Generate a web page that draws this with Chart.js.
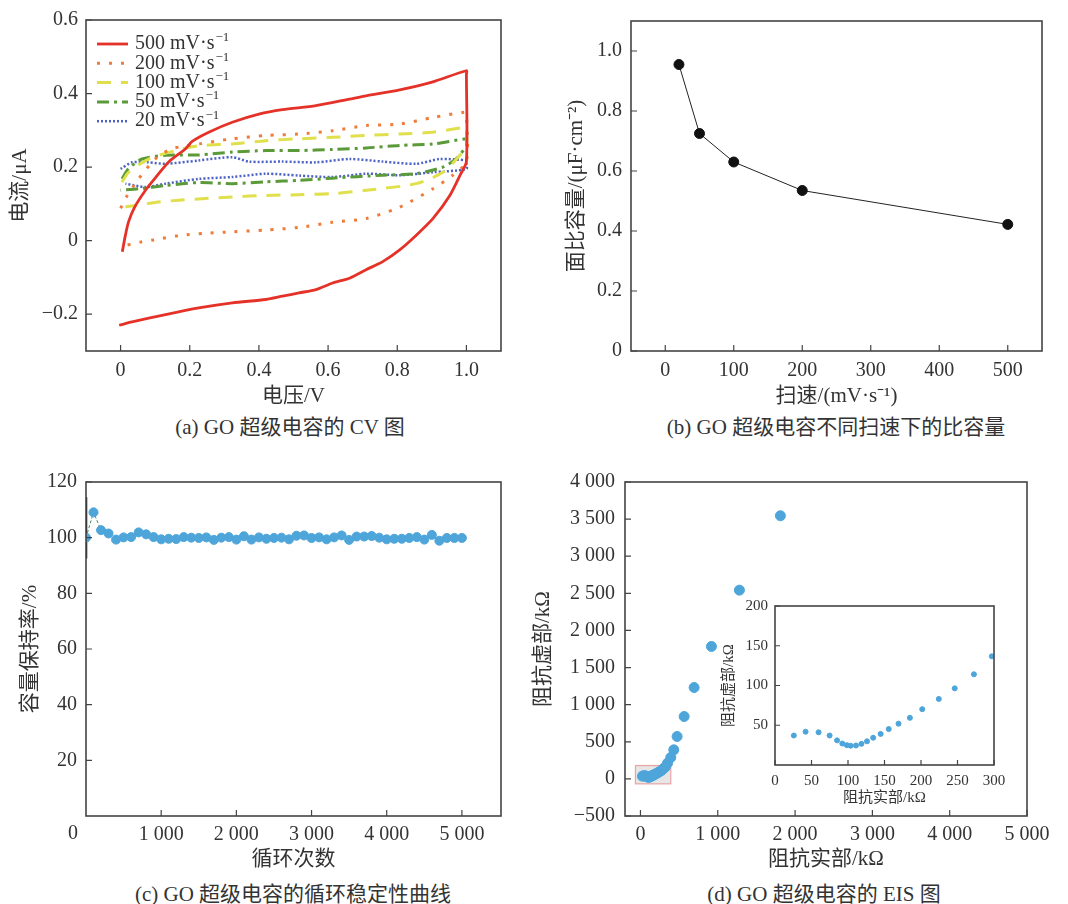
<!DOCTYPE html>
<html>
<head>
<meta charset="utf-8">
<script src="https://cdn.jsdelivr.net/npm/chart.js@4.4.0/dist/chart.umd.min.js"></script>
<style>
  html, body { margin: 0; background: #fff; }
  #page { position: relative; width: 1068px; height: 904px; overflow: hidden; font-family: "Liberation Serif", "Noto Sans CJK SC", serif; color: #333; }
  canvas { position: absolute; }
  .cap { position: absolute; font-size: 21px; white-space: nowrap; transform: translate(-50%, -50%); }
</style>
</head>
<body>
<div id="page">
  <canvas id="cvChart" width="534" height="410" style="left:0;top:0"></canvas>
  <canvas id="rateChart" width="534" height="410" style="left:534px;top:0"></canvas>
  <canvas id="cycleChart" width="534" height="422" style="left:0;top:450px"></canvas>
  <canvas id="eisChart" width="538" height="422" style="left:530px;top:450px"></canvas>
  <canvas id="eisInset" width="330" height="225" style="left:700px;top:590px"></canvas>
  <div class="cap" style="left:290px;top:425px">(a) GO 超级电容的 CV 图</div>
  <div class="cap" style="left:836px;top:425px">(b) GO 超级电容不同扫速下的比容量</div>
  <div class="cap" style="left:293px;top:892px">(c) GO 超级电容的循环稳定性曲线</div>
  <div class="cap" style="left:824px;top:892px">(d) GO 超级电容的 EIS 图</div>
</div>
<script>
// --- (a) CV loops: voltage (V) / current (uA), forward sweep then return ---
const cvLabels = ['500 mV·s⁻¹', '200 mV·s⁻¹', '100 mV·s⁻¹', '50 mV·s⁻¹', '20 mV·s⁻¹'];
const cvV500 = [0.005, 0.014, 0.023, 0.04, 0.072, 0.1, 0.139, 0.188, 0.207, 0.255, 0.323, 0.4, 0.468, 0.565, 0.662, 0.71, 0.807, 0.903, 1.0,
  1.0, 1.0, 0.981, 0.952, 0.903, 0.855, 0.807, 0.758, 0.71, 0.662, 0.613, 0.565, 0.516, 0.468, 0.42, 0.323, 0.226, 0.13, 0.033, -0.004];
const cvI500 = [-0.03, 0.015, 0.051, 0.09, 0.137, 0.17, 0.214, 0.25, 0.27, 0.295, 0.322, 0.344, 0.356, 0.367, 0.385, 0.394, 0.41, 0.432, 0.462,
  0.452, 0.215, 0.177, 0.123, 0.06, 0.015, -0.025, -0.057, -0.079, -0.102, -0.115, -0.133, -0.142, -0.151, -0.16, -0.169, -0.183, -0.201, -0.221, -0.23];
const cvV200 = [0.0, 0.019, 0.052, 0.1, 0.149, 0.226, 0.323, 0.42, 0.516, 0.613, 0.71, 0.807, 0.903, 0.995,
  1.0, 1.0, 0.961, 0.903, 0.836, 0.797, 0.71, 0.613, 0.516, 0.42, 0.323, 0.245, 0.168, 0.096, 0.057, 0.019];
const cvI200 = [0.088, 0.122, 0.168, 0.222, 0.25, 0.263, 0.277, 0.286, 0.29, 0.299, 0.313, 0.317, 0.335, 0.349,
  0.343, 0.215, 0.178, 0.141, 0.105, 0.087, 0.06, 0.05, 0.036, 0.029, 0.024, 0.02, 0.0135, 0.002, -0.004, -0.012];
const cvV100 = [0.004, 0.023, 0.081, 0.159, 0.226, 0.323, 0.42, 0.516, 0.613, 0.71, 0.807, 0.903, 1.0,
  1.0, 1.0, 0.981, 0.932, 0.855, 0.71, 0.613, 0.516, 0.42, 0.323, 0.236, 0.168, 0.1, 0.038, 0.014];
const cvI100 = [0.159, 0.186, 0.222, 0.245, 0.258, 0.263, 0.272, 0.277, 0.281, 0.286, 0.29, 0.295, 0.308,
  0.3, 0.258, 0.232, 0.186, 0.155, 0.137, 0.128, 0.125, 0.123, 0.119, 0.114, 0.11, 0.104, 0.095, 0.092];
const cvV50 = [0.004, 0.023, 0.062, 0.13, 0.226, 0.323, 0.42, 0.516, 0.613, 0.71, 0.807, 0.903, 1.0,
  1.0, 1.0, 0.971, 0.932, 0.855, 0.758, 0.613, 0.516, 0.42, 0.323, 0.226, 0.13, 0.052, 0.0];
const cvI50 = [0.168, 0.196, 0.222, 0.232, 0.233, 0.241, 0.245, 0.245, 0.248, 0.252, 0.259, 0.263, 0.277,
  0.27, 0.258, 0.223, 0.2, 0.182, 0.178, 0.17, 0.164, 0.16, 0.155, 0.158, 0.15, 0.141, 0.137];
const cvV20 = [0.0, 0.033, 0.081, 0.13, 0.226, 0.323, 0.371, 0.468, 0.565, 0.662, 0.758, 0.855, 0.923, 1.0,
  1.0, 1.0, 0.903, 0.807, 0.71, 0.613, 0.516, 0.42, 0.323, 0.226, 0.13, 0.072, 0.014];
const cvI20 = [0.195, 0.213, 0.213, 0.209, 0.218, 0.227, 0.215, 0.215, 0.213, 0.222, 0.215, 0.209, 0.222, 0.218,
  0.212, 0.195, 0.186, 0.178, 0.182, 0.173, 0.177, 0.182, 0.173, 0.168, 0.155, 0.146, 0.155];

// --- (b) capacitance vs scan rate ---
const scanRates = [20, 50, 100, 200, 500];
const areaCap = [0.955, 0.725, 0.63, 0.535, 0.422];

// --- (c) cycling ---
const cycles = [0, 100, 200, 300, 400, 500, 600, 700, 800, 900, 1000, 1100, 1200, 1300, 1400, 1500, 1600, 1700, 1800, 1900,
  2000, 2100, 2200, 2300, 2400, 2500, 2600, 2700, 2800, 2900, 3000, 3100, 3200, 3300, 3400, 3500, 3600, 3700, 3800, 3900,
  4000, 4100, 4200, 4300, 4400, 4500, 4600, 4700, 4800, 4900, 5000];
const retention = [100, 109.1, 102.7, 101.5, 99.3, 100.1, 100.2, 101.9, 101.2, 100.2, 99.4, 99.6, 99.5, 100.2, 100, 99.9, 100.1, 99.2, 100, 100.2,
  99.3, 100.5, 99.3, 100.1, 99.6, 99.9, 100, 99.4, 100.7, 100.8, 99.9, 100.1, 99.4, 100.1, 100.8, 99.2, 100.4, 100.4, 100.6, 100,
  99.4, 99.6, 99.6, 99.9, 100.2, 99.3, 101, 98.9, 99.9, 99.9, 99.9];
const startBarX = [0, 0];
const startBarY = [92.5, 114.5];

// --- (d) EIS (kOhm) ---
const eisRe = [25.8, 41.9, 59.7, 74.8, 85, 92.2, 98.4, 103.7, 110.9, 118.4, 126, 134.5, 144.7, 155.8, 169.2, 184.8, 201.7, 224.4, 246.2, 272.5, 297,
  322, 350, 392, 431, 474, 565, 694, 918, 1280, 1810];
const eisIm = [37.1, 41.9, 41.1, 37.1, 31, 27, 25, 24.2, 24.6, 26.6, 29.8, 34.3, 39.1, 45.2, 52, 59.3, 70.2, 83.1, 96.4, 114.1, 136.7,
  160, 212, 288, 391, 571, 840, 1231, 1784, 2543, 3545];
const zoomRe = [-65, 392];
const zoomIm = [-67, 180];

// tick values
const ticksAx = [0, 0.2, 0.4, 0.6, 0.8, 1.0];
const ticksAy = [-0.2, 0, 0.2, 0.4, 0.6];
const ticksBx = [0, 100, 200, 300, 400, 500];
const ticksBy = [0, 0.2, 0.4, 0.6, 0.8, 1.0];
const ticksCx = [1000, 2000, 3000, 4000, 5000];
const ticksCy = [20, 40, 60, 80, 100, 120];
const ticksDx = [0, 1000, 2000, 3000, 4000, 5000];
const ticksDy = [-500, 0, 500, 1000, 1500, 2000, 2500, 3000, 3500, 4000];
const ticksInX = [0, 50, 100, 150, 200, 250, 300];
const ticksInY = [50, 100, 150, 200];

const FONT = '"Liberation Serif", "Noto Sans CJK SC", serif';
Chart.defaults.font.family = FONT;
Chart.defaults.color = '#333';

const fmtNum = v => {
  const a = Math.abs(v);
  const s = a >= 1000 ? Math.floor(a / 1000) + ' ' + String(a % 1000).padStart(3, '0') : String(a);
  return (v < 0 ? '−' : '') + s;
};
const fmtDec = v => v === 0 ? '0' : (v < 0 ? '−' : '') + Math.abs(v).toFixed(1);
const pts = (xs, ys) => xs.map((x, i) => ({ x, y: ys[i] }));

function linAxis(o) {
  return {
    type: 'linear', min: o.min, max: o.max,
    grid: { display: false, drawTicks: false }, border: { display: false },
    afterBuildTicks: s => { s.ticks = o.ticks.map(v => ({ value: v })); },
    afterFit: s => { if (s.isHorizontal()) s.height = o.fit; else s.width = o.fit; },
    ticks: { padding: o.pad, autoSkip: false, maxRotation: 0, font: { size: o.fs || 20 }, color: '#333', callback: o.fmt },
    title: { display: true, text: o.title, font: { size: o.tfs || 21 }, color: '#333', padding: o.tpad }
  };
}

// frame box + inward tick marks
const frameTicks = {
  id: 'frameTicks',
  afterDatasetsDraw(chart, args, opts) {
    const { ctx, chartArea: a, scales: { x, y } } = chart;
    const len = opts.len || 6;
    ctx.save();
    ctx.strokeStyle = '#444';
    ctx.lineWidth = 1.6;
    ctx.strokeRect(a.left, a.top, a.right - a.left, a.bottom - a.top);
    ctx.lineWidth = 1.2;
    ctx.beginPath();
    x.ticks.forEach(t => { const p = x.getPixelForValue(t.value); ctx.moveTo(p, a.bottom); ctx.lineTo(p, a.bottom - len); });
    y.ticks.forEach(t => { const p = y.getPixelForValue(t.value); ctx.moveTo(a.left, p); ctx.lineTo(a.left + len, p); });
    ctx.stroke();
    ctx.restore();
  }
};

const baseOpts = (padding, scales, plugins) => ({
  responsive: false, animation: false, devicePixelRatio: 1,
  layout: { padding },
  scales,
  plugins: Object.assign({ legend: { display: false }, tooltip: { enabled: false } }, plugins || {})
});

// --- (a) CV chart ---
const cvLegend = {
  id: 'cvLegend',
  afterDraw(chart) {
    const { ctx, chartArea: a } = chart;
    chart.data.datasets.forEach((ds, i) => {
      const y = a.top + 24 + i * 19.3;
      const x0 = a.left + 11;
      ctx.save();
      ctx.strokeStyle = ds.borderColor;
      ctx.lineWidth = ds.borderWidth;
      ctx.setLineDash(ds.borderDash || []);
      ctx.beginPath(); ctx.moveTo(x0, y); ctx.lineTo(x0 + 31, y); ctx.stroke();
      ctx.setLineDash([]);
      ctx.fillStyle = '#333';
      ctx.textBaseline = 'middle';
      ctx.font = '20px ' + FONT;
      const txt = ds.label.replace('⁻¹', '');
      ctx.fillText(txt, x0 + 38, y);
      const w = ctx.measureText(txt).width;
      ctx.font = '13px ' + FONT;
      ctx.fillText('−1', x0 + 38 + w + 1, y - 6);
      ctx.restore();
    });
  }
};

const cvStyles = [
  { color: '#e53228', width: 2.8, dash: [] },
  { color: '#ee7d3b', width: 3, dash: [3, 9] },
  { color: '#e0df4c', width: 3, dash: [14, 10] },
  { color: '#5b9a38', width: 3, dash: [12, 5, 3, 5] },
  { color: '#4f63c4', width: 2.5, dash: [2, 2] }
];
const cvSets = [[cvV500, cvI500], [cvV200, cvI200], [cvV100, cvI100], [cvV50, cvI50], [cvV20, cvI20]];

new Chart(document.getElementById('cvChart'), {
  type: 'scatter',
  data: {
    datasets: cvSets.map((s, i) => ({
      label: cvLabels[i],
      data: pts(s[0], s[1]),
      showLine: true, tension: 0.25, pointRadius: 0,
      borderColor: cvStyles[i].color, borderWidth: cvStyles[i].width, borderDash: cvStyles[i].dash
    }))
  },
  options: baseOpts({ left: 0, top: 16, right: 33, bottom: 0 }, {
    x: linAxis({ min: -0.1, max: 1.1, ticks: ticksAx, fmt: fmtDec, fit: 59, pad: 8, title: '电压/V', tpad: { top: 0, bottom: 1 } }),
    y: linAxis({ min: -0.3, max: 0.6, ticks: ticksAy, fmt: fmtDec, fit: 86, pad: 8, title: '电流/μA', tpad: { top: 8, bottom: 0 } })
  }),
  plugins: [frameTicks, cvLegend]
});

// --- (b) capacitance vs scan rate ---
new Chart(document.getElementById('rateChart'), {
  type: 'scatter',
  data: {
    datasets: [{
      data: pts(scanRates, areaCap),
      showLine: true, borderColor: '#222', borderWidth: 1,
      pointRadius: 5, pointBackgroundColor: '#111', pointBorderColor: '#111'
    }]
  },
  options: baseOpts({ left: 0, top: 17, right: 26, bottom: 0 }, {
    x: linAxis({ min: -50, max: 550, ticks: ticksBx, fmt: fmtNum, fit: 59, pad: 8, title: '扫速/(mV·s⁻¹)', tpad: { top: 0, bottom: 1 } }),
    y: linAxis({ min: 0, max: 1.1, ticks: ticksBy, fmt: fmtDec, fit: 97, pad: 9, title: '面比容量/(μF·cm⁻²)', tpad: { top: 30, bottom: 0 } })
  }),
  plugins: [frameTicks]
});

// --- (c) cycling stability ---
const originLabel = {
  id: 'originLabel',
  afterDraw(chart) {
    const { ctx, chartArea: a } = chart;
    ctx.save();
    ctx.fillStyle = '#333';
    ctx.font = '20px ' + FONT;
    ctx.textAlign = 'center';
    ctx.textBaseline = 'middle';
    ctx.fillText('0', a.left - 13, a.bottom + 18);
    ctx.restore();
  }
};

new Chart(document.getElementById('cycleChart'), {
  type: 'scatter',
  data: {
    datasets: [{
      data: pts(cycles, retention),
      showLine: true, borderColor: '#3f8a5c', borderWidth: 1, borderDash: [3, 2],
      pointRadius: 4.5, pointBackgroundColor: '#4ea5da', pointBorderColor: '#4ea5da'
    }, {
      data: pts(startBarX, startBarY),
      showLine: true, borderColor: '#111', borderWidth: 2.5, pointRadius: 0
    }]
  },
  options: baseOpts({ left: 0, top: 32, right: 33, bottom: 0 }, {
    x: linAxis({ min: 0, max: 5520, ticks: ticksCx, fmt: fmtNum, fit: 56, pad: 7, title: '循环次数', tpad: { top: 0, bottom: 0 } }),
    y: linAxis({ min: 0, max: 120, ticks: ticksCy, fmt: fmtNum, fit: 86, pad: 9, title: '容量保持率/%', tpad: { top: 18, bottom: 0 } })
  }),
  plugins: [frameTicks, originLabel]
});

// --- (d) EIS ---
const zoomBox = {
  id: 'zoomBox',
  beforeDatasetsDraw(chart) {
    const { ctx, scales: { x, y } } = chart;
    const l = x.getPixelForValue(zoomRe[0]), r = x.getPixelForValue(zoomRe[1]);
    const t = y.getPixelForValue(zoomIm[1]), b = y.getPixelForValue(zoomIm[0]);
    ctx.save();
    ctx.fillStyle = 'rgba(205,205,205,0.5)';
    ctx.strokeStyle = 'rgba(235,130,130,0.7)';
    ctx.lineWidth = 1.2;
    ctx.fillRect(l, t, r - l, b - t);
    ctx.strokeRect(l, t, r - l, b - t);
    ctx.restore();
  }
};

new Chart(document.getElementById('eisChart'), {
  type: 'scatter',
  data: {
    datasets: [{
      data: pts(eisRe, eisIm),
      pointRadius: 5, pointBackgroundColor: '#4ea5da', pointBorderColor: '#4ea5da'
    }]
  },
  options: baseOpts({ left: 0, top: 32, right: 41, bottom: 0 }, {
    x: linAxis({ min: -200, max: 5000, ticks: ticksDx, fmt: fmtNum, fit: 56, pad: 7, title: '阻抗实部/kΩ', tpad: { top: 0, bottom: 0 } }),
    y: linAxis({ min: -500, max: 4000, ticks: ticksDy, fmt: fmtNum, fit: 95, pad: 10, title: '阻抗虚部/kΩ', tpad: { top: 1, bottom: 0 } })
  }),
  plugins: [zoomBox, frameTicks]
});

// inset: zoom on the low-impedance arc
const whiteArea = {
  id: 'whiteArea',
  beforeDatasetsDraw(chart) {
    const { ctx, chartArea: a } = chart;
    ctx.save();
    ctx.fillStyle = '#fff';
    ctx.fillRect(a.left, a.top, a.right - a.left, a.bottom - a.top);
    ctx.restore();
  }
};

new Chart(document.getElementById('eisInset'), {
  type: 'scatter',
  data: {
    datasets: [{
      data: pts(eisRe, eisIm),
      pointRadius: 2.5, pointBackgroundColor: '#4ea5da', pointBorderColor: '#4ea5da'
    }]
  },
  options: baseOpts({ left: 0, top: 9, right: 36, bottom: 0 }, {
    x: linAxis({ min: 0, max: 300, ticks: ticksInX, fmt: fmtNum, fit: 50, pad: 7, fs: 15, tfs: 15, title: '阻抗实部/kΩ', tpad: { top: 0, bottom: 8 } }),
    y: linAxis({ min: 0, max: 200, ticks: ticksInY, fmt: fmtNum, fit: 75, pad: 7, fs: 15, tfs: 15, title: '阻抗虚部/kΩ', tpad: { top: 20, bottom: 0 } })
  }, { frameTicks: { len: 5 } }),
  plugins: [whiteArea, frameTicks]
});
</script>
</body>
</html>
